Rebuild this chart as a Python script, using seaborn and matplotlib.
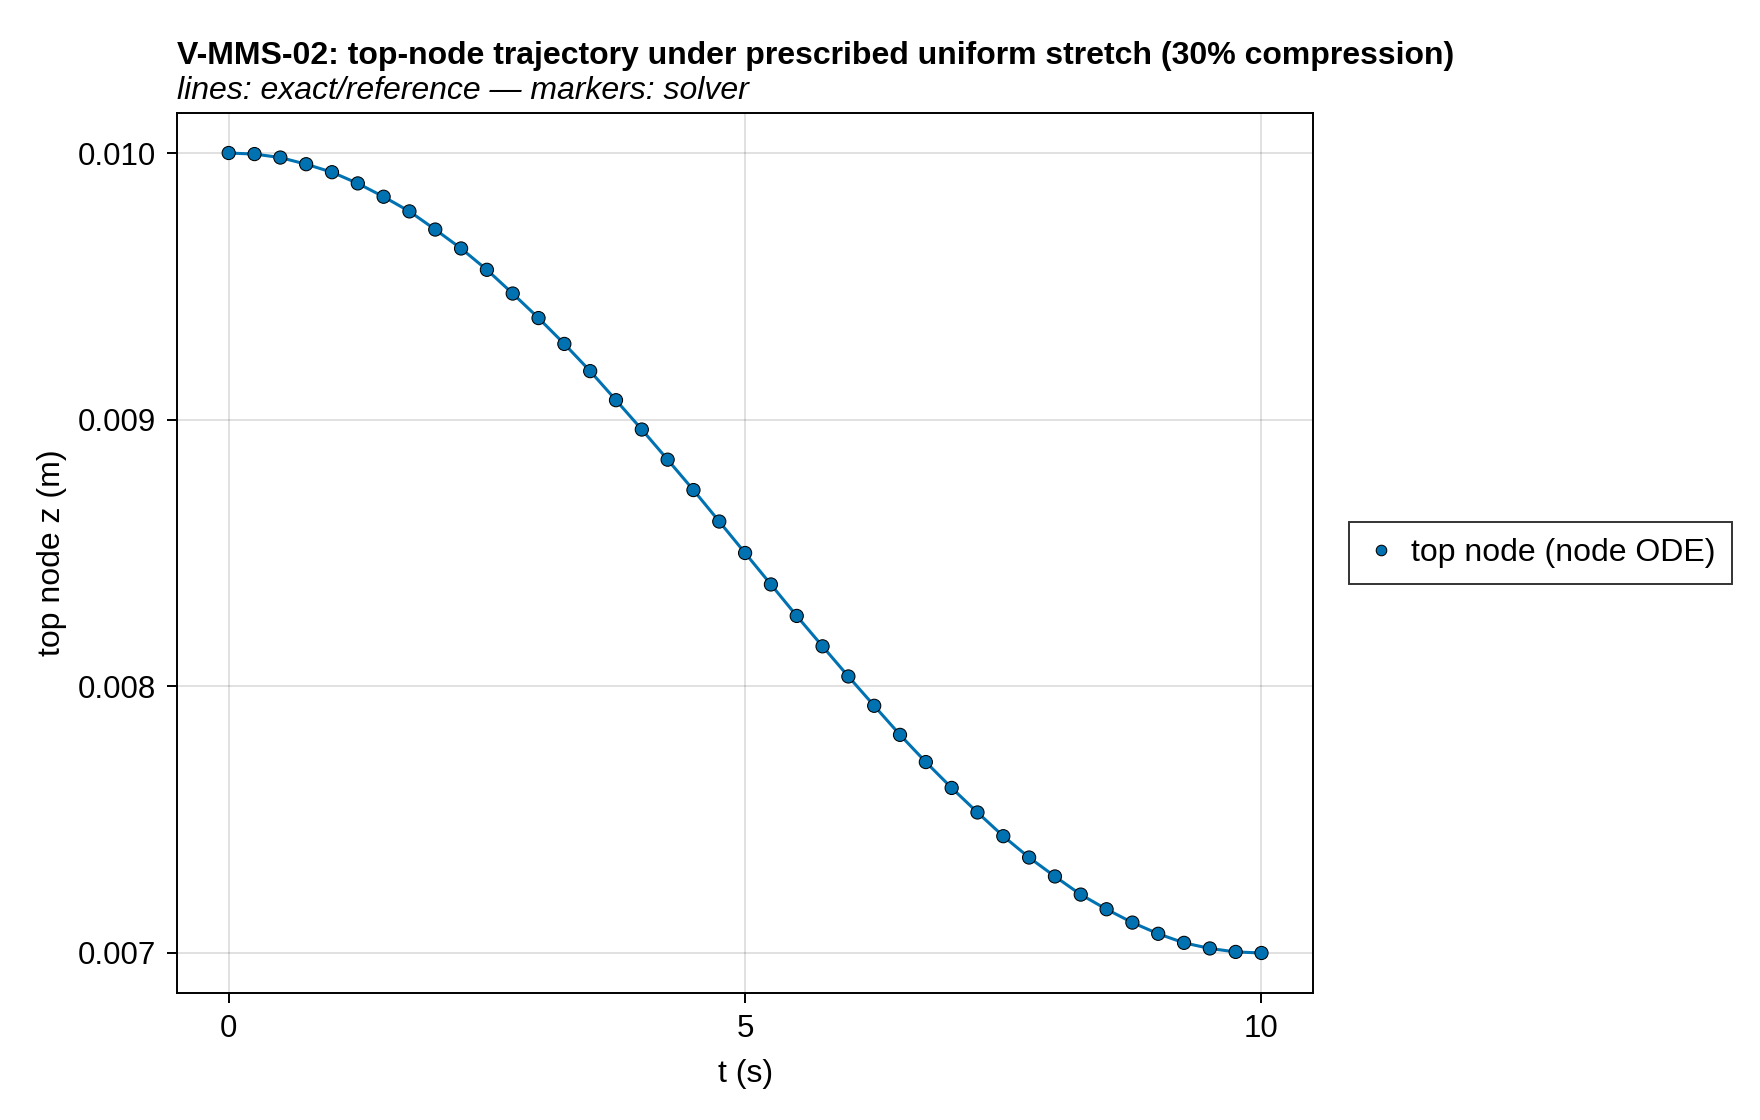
import matplotlib
matplotlib.use("Agg")
import matplotlib.pyplot as plt
import numpy as np
import pandas as pd
import seaborn as sns

# time samples (s) and top-node height (m)
t = [0.0, 0.25, 0.5, 0.75, 1.0, 1.25, 1.5, 1.75, 2.0, 2.25,
     2.5, 2.75, 3.0, 3.25, 3.5, 3.75, 4.0, 4.25, 4.5, 4.75,
     5.0, 5.25, 5.5, 5.75, 6.0, 6.25, 6.5, 6.75, 7.0, 7.25,
     7.5, 7.75, 8.0, 8.25, 8.5, 8.75, 9.0, 9.25, 9.5, 9.75, 10.0]
z_exact = [0.010000, 0.009996, 0.009983, 0.009958, 0.009928, 0.009886, 0.009836, 0.009781,
           0.009713, 0.009642, 0.009562, 0.009473, 0.009381, 0.009284, 0.009182, 0.009073,
           0.008963, 0.008850, 0.008736, 0.008618, 0.008500, 0.008382, 0.008264, 0.008150,
           0.008037, 0.007927, 0.007818, 0.007716, 0.007619, 0.007527, 0.007438, 0.007358,
           0.007287, 0.007219, 0.007164, 0.007114, 0.007072, 0.007038, 0.007017, 0.007004,
           0.007000]
z_solver = list(z_exact)

x_ticks = [0, 5, 10]
y_ticks = [0.007, 0.008, 0.009, 0.010]

title = "V-MMS-02: top-node trajectory under prescribed uniform stretch (30% compression)"
subtitle = "lines: exact/reference \u2014 markers: solver"
series_label = "top node (node ODE)"

blue = "#0072B2"

sns.set_theme(style="white")
plt.rcParams["font.family"] = ["Liberation Sans", "DejaVu Sans"]
plt.rcParams["text.color"] = "black"

df_line = pd.DataFrame({"t": t, "z": z_exact})
df_pts = pd.DataFrame({"t": t, "z": z_solver, "series": series_label})

fig = plt.figure(figsize=(17.6, 11.2), dpi=100)
ax = fig.add_axes([0.1006, 0.1134, 0.6455, 0.7857])

sns.lineplot(data=df_line, x="t", y="z", ax=ax, color=blue, linewidth=2.2,
             legend=False, zorder=2)
sns.scatterplot(data=df_pts, x="t", y="z", hue="series", palette=[blue], ax=ax,
                s=90, edgecolor="black", linewidth=0.75, zorder=3)

ax.set_xlim(-0.5, 10.5)
ax.set_ylim(0.00685, 0.01015)
ax.set_xticks(x_ticks)
ax.set_yticks(y_ticks)
ax.set_xticklabels([str(v) for v in x_ticks])
ax.set_yticklabels(["%.3f" % v for v in y_ticks])
ax.grid(True, color="black", alpha=0.12, linewidth=1.4)
ax.set_axisbelow(True)
for s in ax.spines.values():
    s.set_color("black")
    s.set_linewidth(1.4)
ax.tick_params(axis="both", direction="out", length=7, width=1.4, color="black",
               labelsize=22.5, pad=8, left=True, bottom=True, labelcolor="black")
ax.set_xlabel("")
ax.set_ylabel("")

fig.text(0.0295, 0.5063, "top node z (m)", rotation=90, ha="center", va="center",
         fontsize=23)
fig.text(0.4236, 0.041, "t (s)", ha="center", va="center", fontsize=23)
fig.text(0.1006, 0.943, title, ha="left", va="baseline", fontsize=23,
         fontweight="bold")
fig.text(0.1006, 0.9116, subtitle, ha="left", va="baseline", fontsize=23,
         style="italic")

handles, labels = ax.get_legend_handles_labels()
ax.legend_.remove()
leg = fig.legend(handles, labels, loc="center left", bbox_to_anchor=(0.7665, 0.506),
                 bbox_transform=fig.transFigure, borderaxespad=0, fontsize=23,
                 frameon=True, fancybox=False, edgecolor="black",
                 handlelength=1.0, handletextpad=0.45, borderpad=0.5, markerscale=0.8)
leg.get_frame().set_linewidth(1.4)

fig.savefig("out.png", dpi=100)
